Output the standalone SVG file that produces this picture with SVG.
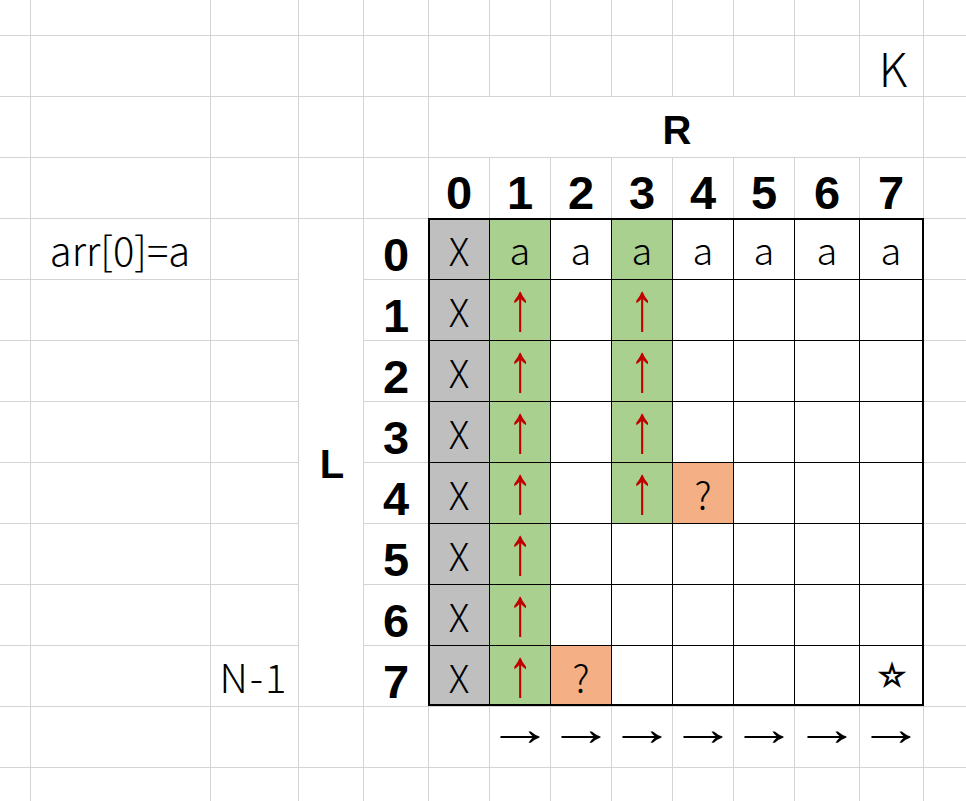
<svg xmlns="http://www.w3.org/2000/svg" width="966" height="801" viewBox="0 0 966 801">
<style>
.g{stroke:#D4D4D4;stroke-width:1;fill:none}
.t{font-family:"Noto Sans CJK SC","Liberation Sans",sans-serif;font-weight:300;fill:#000;text-anchor:middle}
.b{font-family:"Liberation Sans",Arial,sans-serif;font-weight:bold;fill:#000;text-anchor:middle}
.up{font-family:"Liberation Sans",Arial,sans-serif;fill:#C00000;text-anchor:middle;font-size:40px}
.rt{font-family:"Liberation Sans",Arial,sans-serif;fill:#000;text-anchor:middle;font-size:40px}
.x{font-size:38px}
.il{stroke:#000;stroke-width:1}
</style>
<defs>
<text id="upa" class="up" transform="scale(1.25,1.7)">↑</text>
<text id="rta" class="rt" transform="scale(1.65,1.2)">→</text>
</defs>
<rect width="966" height="801" fill="#fff"/>
<g id="grid">
<path class="g" d="M0 35.5H966M0 96.5H966M0 157.5H966M0 218.5H966M0 767.5H966M0 706.5H966
M0 279.5H298M363 279.5H966M0 340.5H298M363 340.5H966M0 401.5H298M363 401.5H966M0 462.5H298M363 462.5H966M0 523.5H298M363 523.5H966M0 584.5H298M363 584.5H966M0 645.5H298M363 645.5H966
M30.5 0V801M210.5 0V801M298.5 0V801M363.5 0V801M428.5 0V801M923.5 0V801
M489.5 0V96M489.5 157V801M550.5 0V96M550.5 157V801M611.5 0V96M611.5 157V801M672.5 0V96M672.5 157V801M733.5 0V96M733.5 157V801M794.5 0V96M794.5 157V801M859.5 0V96M859.5 157V801"/>
</g>
<g id="table">
<rect x="428" y="218" width="61" height="488" fill="#BFBFBF"/>
<rect x="489" y="218" width="61" height="488" fill="#A9D08E"/>
<rect x="611" y="218" width="61" height="305" fill="#A9D08E"/>
<rect x="672" y="462" width="61" height="61" fill="#F4B084"/>
<rect x="550" y="645" width="61" height="61" fill="#F4B084"/>
<path class="il" d="M428 279.5H923M428 340.5H923M428 401.5H923M428 462.5H923M428 523.5H923M428 584.5H923M428 645.5H923
M489.5 218V706M550.5 218V706M611.5 218V706M672.5 218V706M733.5 218V706M794.5 218V706M859.5 218V706"/>
<rect x="429" y="219" width="494" height="486" fill="none" stroke="#000" stroke-width="2"/>
</g>
<g id="headers">
<text class="t" x="893" y="87" font-size="46">K</text>
<text class="b" x="677" y="144" font-size="40">R</text>
<text class="b" x="332" y="478" font-size="40">L</text>
<text class="t" x="120" y="266" font-size="40">arr[0]=a</text>
<text class="t" x="254" y="693" font-size="40" letter-spacing="2">N-1</text>
<g class="b" font-size="47">
<text x="459" y="209">0</text><text x="520" y="209">1</text><text x="581" y="209">2</text><text x="642" y="209">3</text><text x="703" y="209">4</text><text x="764" y="209">5</text><text x="827" y="209">6</text><text x="891" y="209">7</text>
<text x="396" y="271">0</text><text x="396" y="332">1</text><text x="396" y="393">2</text><text x="396" y="454">3</text><text x="396" y="515">4</text><text x="396" y="576">5</text><text x="396" y="637">6</text><text x="396" y="698">7</text>
</g>
</g>
<g id="cells" class="t x">
<text x="459" y="266">X</text><text x="459" y="327">X</text><text x="459" y="388">X</text><text x="459" y="449">X</text><text x="459" y="510">X</text><text x="459" y="571">X</text><text x="459" y="632">X</text><text x="459" y="693">X</text>
<text x="520" y="265">a</text><text x="581" y="265">a</text><text x="642" y="265">a</text><text x="703" y="265">a</text><text x="764" y="265">a</text><text x="827" y="265">a</text><text x="891" y="265">a</text>
<text x="703" y="510">?</text><text x="581" y="693">?</text>
</g>
<g id="up-arrows">
<use href="#upa" x="520" y="330"/><use href="#upa" x="520" y="391"/><use href="#upa" x="520" y="452"/><use href="#upa" x="520" y="513"/><use href="#upa" x="520" y="574"/><use href="#upa" x="520" y="635"/><use href="#upa" x="520" y="696"/>
<use href="#upa" x="642" y="330"/><use href="#upa" x="642" y="391"/><use href="#upa" x="642" y="452"/><use href="#upa" x="642" y="513"/>
</g>
<g id="right-arrows">
<use href="#rta" x="520" y="745"/><use href="#rta" x="581" y="745"/><use href="#rta" x="642" y="745"/><use href="#rta" x="703" y="745"/><use href="#rta" x="764" y="745"/><use href="#rta" x="827" y="745"/><use href="#rta" x="891" y="745"/>
</g>
<text x="892" y="688" font-family="Inter,sans-serif" font-size="33" text-anchor="middle" fill="#000">☆</text>
</svg>
